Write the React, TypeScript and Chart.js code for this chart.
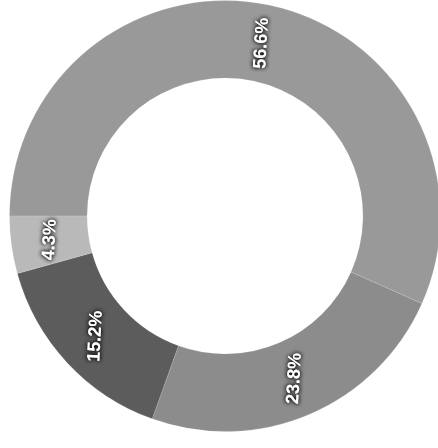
import React, { useEffect, useRef } from "react";
import { Chart, registerables } from "chart.js";

Chart.register(...registerables);

const categories = ["A", "B", "C", "D"];
const values = [56.6, 23.8, 15.2, 4.3];
const valueLabels = ["56.6%", "23.8%", "15.2%", "4.3%"];
const colors = ["#999999", "#8c8c8c", "#5c5c5c", "#b9b9b9"];

const labelPlugin = {
  id: "ringLabels",
  afterDatasetsDraw(chart: any) {
    const ctx = chart.ctx;
    const meta = chart.getDatasetMeta(0);
    ctx.save();
    ctx.font = "bold 18px 'Liberation Sans', Arial, sans-serif";
    ctx.fillStyle = "#ffffff";
    ctx.textAlign = "center";
    ctx.textBaseline = "middle";
    ctx.shadowColor = "rgba(0,0,0,0.9)";
    ctx.shadowBlur = 4;
    meta.data.forEach((arc: any, i: number) => {
      const p = arc.getProps(["x", "y", "startAngle", "endAngle", "innerRadius", "outerRadius"], true);
      const mid = (p.startAngle + p.endAngle) / 2;
      const r = (p.innerRadius + p.outerRadius) / 2;
      const x = p.x + Math.cos(mid) * r;
      const y = p.y + Math.sin(mid) * r;
      ctx.save();
      ctx.translate(x, y);
      ctx.rotate((-87 * Math.PI) / 180);
      ctx.fillText(valueLabels[i], 0, 0);
      ctx.fillText(valueLabels[i], 0, 0);
      ctx.restore();
    });
    ctx.restore();
  },
};

export default function App() {
  const ref = useRef<HTMLCanvasElement>(null);
  useEffect(() => {
    if (!ref.current) return;
    const chart = new Chart(ref.current, {
      type: "doughnut",
      data: {
        labels: categories,
        datasets: [
          {
            data: values,
            backgroundColor: colors,
            borderColor: "rgba(255,255,255,0.12)",
            borderWidth: 1,
          },
        ],
      },
      options: {
        responsive: false,
        animation: false,
        cutout: "64%",
        rotation: -90,
        layout: { padding: 0 },
        plugins: {
          legend: { display: false },
          tooltip: { enabled: false },
        },
      },
      plugins: [labelPlugin],
    });
    return () => chart.destroy();
  }, []);
  return (
    <div
      style={{
        position: "fixed",
        left: 0,
        top: 0,
        width: 438,
        height: 448,
        overflow: "hidden",
        background: "#ffffff",
      }}
    >
      <div style={{ position: "absolute", left: 9, top: 0, width: 432, height: 432 }}>
        <canvas ref={ref} width={432} height={432} />
      </div>
    </div>
  );
}
